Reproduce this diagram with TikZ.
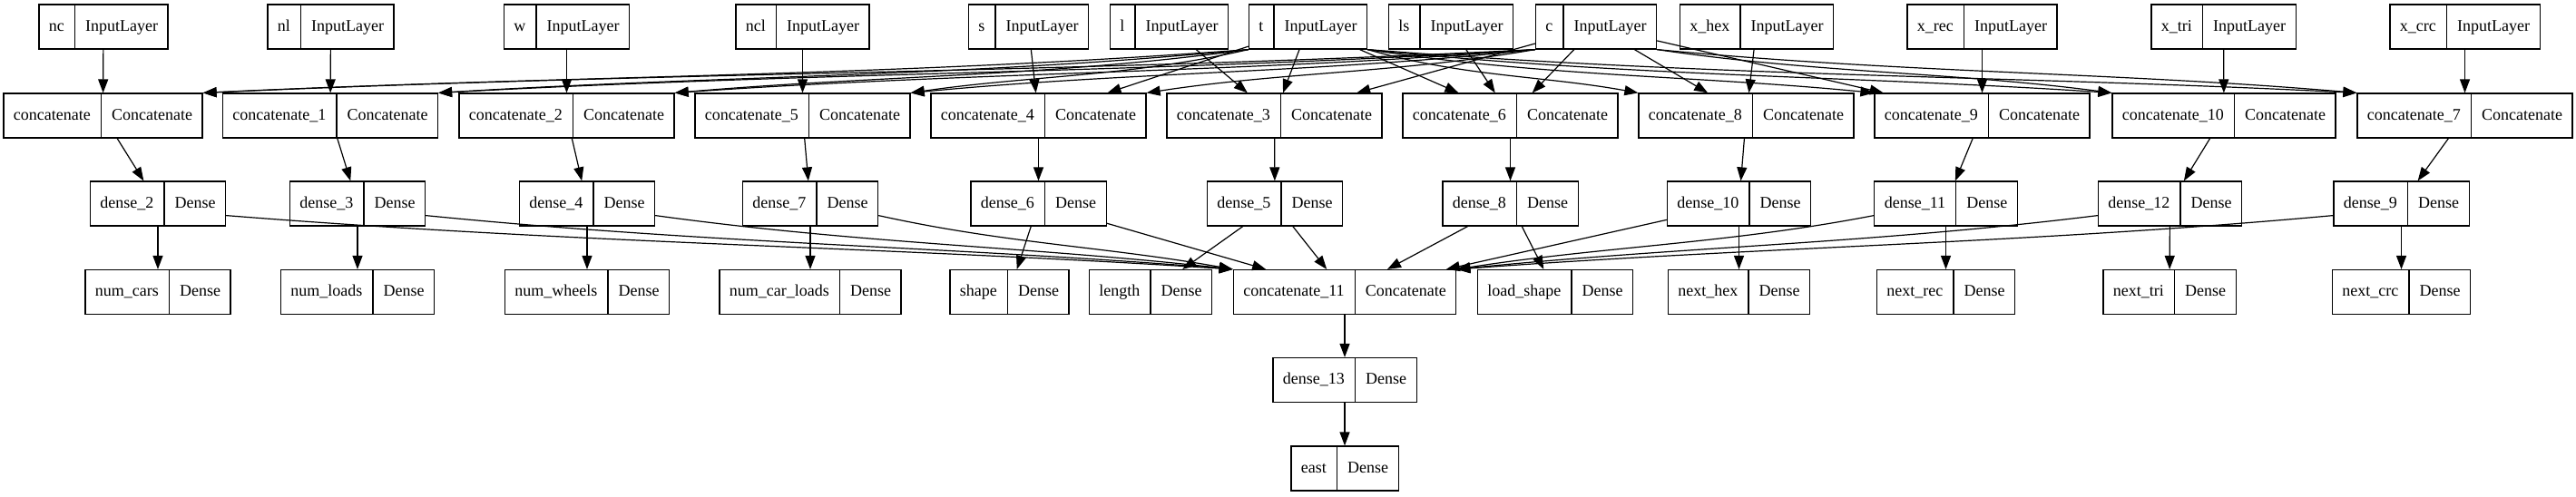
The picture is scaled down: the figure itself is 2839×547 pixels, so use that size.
\documentclass[tikz,border=0pt]{standalone}
\usepackage{fontspec}
\setmainfont{Liberation Serif}
\usetikzlibrary{shapes.multipart,arrows.meta}

\tikzset{
  layer/.style={draw, line width=1.2pt, rectangle split, rectangle split horizontal,
    rectangle split parts=2, inner xsep=11pt, inner ysep=12.5pt,
    font=\fontsize{18}{24}\selectfont},
  edge/.style={line width=1.2pt, -{Triangle[length=15pt,width=11pt]}},
}
\newcommand{\lyr}[2]{\strut#1\nodepart{two}\strut#2}

\begin{document}
\begin{tikzpicture}[x=1pt, y=1pt]
  \useasboundingbox (0,0) rectangle (2839,-547);
  % inputs
  \node[layer] (nc) at (114,-29.5) {\lyr{nc}{InputLayer}};
  \node[layer] (nl) at (364.5,-29.5) {\lyr{nl}{InputLayer}};
  \node[layer] (w) at (624.5,-29.5) {\lyr{w}{InputLayer}};
  \node[layer] (ncl) at (884.5,-29.5) {\lyr{ncl}{InputLayer}};
  \node[layer] (s) at (1133.5,-29.5) {\lyr{s}{InputLayer}};
  \node[layer] (l) at (1288.5,-29.5) {\lyr{l}{InputLayer}};
  \node[layer] (t) at (1441.5,-29.5) {\lyr{t}{InputLayer}};
  \node[layer] (ls) at (1599,-29.5) {\lyr{ls}{InputLayer}};
  \node[layer] (c) at (1759,-29.5) {\lyr{c}{InputLayer}};
  \node[layer] (xhex) at (1936,-29.5) {\lyr{x\_hex}{InputLayer}};
  \node[layer] (xrec) at (2184.5,-29.5) {\lyr{x\_rec}{InputLayer}};
  \node[layer] (xtri) at (2450.5,-29.5) {\lyr{x\_tri}{InputLayer}};
  \node[layer] (xcrc) at (2716.5,-29.5) {\lyr{x\_crc}{InputLayer}};
  % concatenates
  \node[layer] (cat0) at (113.5,-127.5) {\lyr{concatenate}{Concatenate}};
  \node[layer] (cat1) at (364,-127.5) {\lyr{concatenate\_1}{Concatenate}};
  \node[layer] (cat2) at (624.5,-127.5) {\lyr{concatenate\_2}{Concatenate}};
  \node[layer] (cat5) at (884.5,-127.5) {\lyr{concatenate\_5}{Concatenate}};
  \node[layer] (cat4) at (1144.5,-127.5) {\lyr{concatenate\_4}{Concatenate}};
  \node[layer] (cat3) at (1404.5,-127.5) {\lyr{concatenate\_3}{Concatenate}};
  \node[layer] (cat6) at (1664.5,-127.5) {\lyr{concatenate\_6}{Concatenate}};
  \node[layer] (cat8) at (1924.5,-127.5) {\lyr{concatenate\_8}{Concatenate}};
  \node[layer] (cat9) at (2184.5,-127.5) {\lyr{concatenate\_9}{Concatenate}};
  \node[layer] (cat10) at (2451,-127.5) {\lyr{concatenate\_10}{Concatenate}};
  \node[layer] (cat7) at (2716.5,-127.5) {\lyr{concatenate\_7}{Concatenate}};
  % dense
  \node[layer] (d2) at (174,-224.5) {\lyr{dense\_2}{Dense}};
  \node[layer] (d3) at (394,-224.5) {\lyr{dense\_3}{Dense}};
  \node[layer] (d4) at (647,-224.5) {\lyr{dense\_4}{Dense}};
  \node[layer] (d7) at (893,-224.5) {\lyr{dense\_7}{Dense}};
  \node[layer] (d6) at (1144.5,-224.5) {\lyr{dense\_6}{Dense}};
  \node[layer] (d5) at (1405,-224.5) {\lyr{dense\_5}{Dense}};
  \node[layer] (d8) at (1664.5,-224.5) {\lyr{dense\_8}{Dense}};
  \node[layer] (d10) at (1916.5,-224.5) {\lyr{dense\_10}{Dense}};
  \node[layer] (d11) at (2144.5,-224.5) {\lyr{dense\_11}{Dense}};
  \node[layer] (d12) at (2391.5,-224.5) {\lyr{dense\_12}{Dense}};
  \node[layer] (d9) at (2646.5,-224.5) {\lyr{dense\_9}{Dense}};
  % outputs
  \node[layer] (numcars) at (174,-322) {\lyr{num\_cars}{Dense}};
  \node[layer] (numloads) at (394,-322) {\lyr{num\_loads}{Dense}};
  \node[layer] (numwheels) at (647,-322) {\lyr{num\_wheels}{Dense}};
  \node[layer] (numcarloads) at (893,-322) {\lyr{num\_car\_loads}{Dense}};
  \node[layer] (shape) at (1112.5,-322) {\lyr{shape}{Dense}};
  \node[layer] (length) at (1268,-322) {\lyr{length}{Dense}};
  \node[layer] (cat11) at (1482,-322) {\lyr{concatenate\_11}{Concatenate}};
  \node[layer] (loadshape) at (1714,-322) {\lyr{load\_shape}{Dense}};
  \node[layer] (nexthex) at (1916.5,-322) {\lyr{next\_hex}{Dense}};
  \node[layer] (nextrec) at (2144.5,-322) {\lyr{next\_rec}{Dense}};
  \node[layer] (nexttri) at (2391,-322) {\lyr{next\_tri}{Dense}};
  \node[layer] (nextcrc) at (2646.5,-322) {\lyr{next\_crc}{Dense}};
  \node[layer] (d13) at (1482,-419) {\lyr{dense\_13}{Dense}};
  \node[layer] (east) at (1482,-516.5) {\lyr{east}{Dense}};

  % straight edges
  \foreach \a/\b in {nc/cat0, nl/cat1, w/cat2, ncl/cat5, s/cat4, l/cat3, ls/cat6,
      xhex/cat8, xrec/cat9, xtri/cat10, xcrc/cat7, t/cat4, t/cat3, t/cat6,
      c/cat3, c/cat6, c/cat8, c/cat9,
      cat0/d2, cat1/d3, cat2/d4, cat5/d7, cat4/d6, cat3/d5, cat6/d8,
      cat8/d10, cat9/d11, cat10/d12, cat7/d9,
      d2/numcars, d3/numloads, d4/numwheels, d7/numcarloads, d6/shape,
      d5/length, d8/loadshape, d10/nexthex, d11/nextrec, d12/nexttri, d9/nextcrc,
      d6/cat11, d5/cat11, d8/cat11, d10/cat11, cat11/d13, d13/east}
    \draw[edge] (\a) -- (\b);

  % long edges from t and c
  \foreach \b/\k in {cat0/400, cat1/310, cat2/220, cat5/130}
    \draw[edge] (t.south west) .. controls +(-\k,-30) and +(\k,19) .. (\b.north east);
  \foreach \b/\k in {cat8/105, cat9/195, cat10/290, cat7/380}
    \draw[edge] (t.south east) .. controls +(\k,-30) and +(-\k,19) .. (\b.north west);
  \foreach \b/\k in {cat0/515, cat1/425, cat2/330, cat5/240, cat4/150}
    \draw[edge] (c.south west) .. controls +(-\k,-26) and +(\k,23) .. (\b.north east);
  \foreach \b/\k in {cat10/175, cat7/270}
    \draw[edge] (c.south east) .. controls +(\k,-26) and +(-\k,23) .. (\b.north west);

  % long edges into concatenate_11
  \foreach \a/\k in {d2/390, d3/310, d4/225, d7/140}
    \draw[edge] ([yshift=12pt]\a.south east) .. controls +(\k,-31) and +(-\k,25) .. (cat11.north west);
  \foreach \a/\k in {d11/160, d12/250, d9/340}
    \draw[edge] ([yshift=12pt]\a.south west) .. controls +(-\k,-31) and +(\k,25) .. (cat11.north east);
\end{tikzpicture}
\end{document}
